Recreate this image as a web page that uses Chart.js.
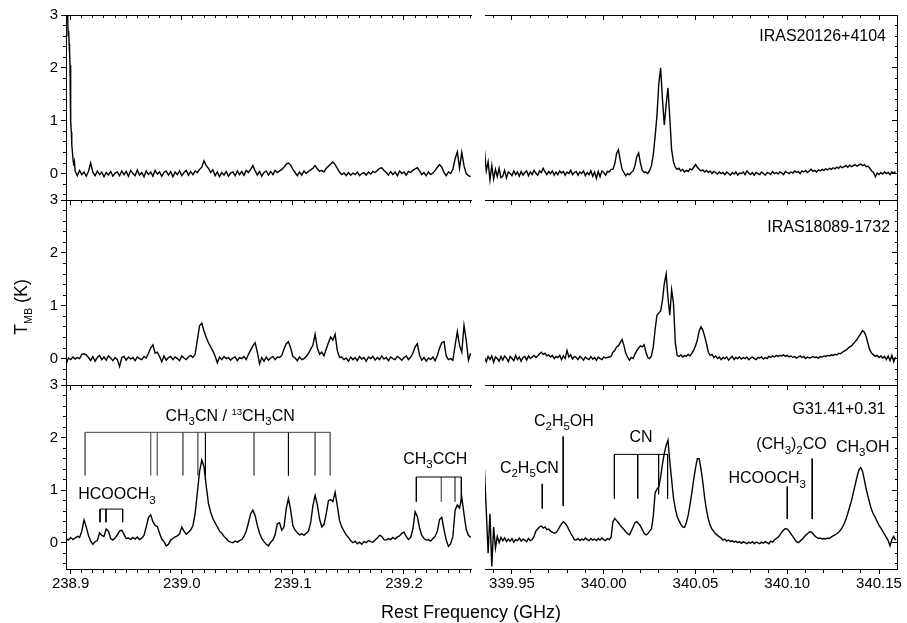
<!DOCTYPE html>
<html>
<head>
<meta charset="utf-8">
<script src="https://cdn.jsdelivr.net/npm/chart.js@4.4.0/dist/chart.umd.min.js"></script>
<style>
  html, body { margin: 0; padding: 0; background: #fff; }
  #wrap { position: relative; width: 907px; height: 623px; }
  #wrap canvas { position: absolute; left: 0; top: 0; }
</style>
</head>
<body>
<div id="wrap">
  <canvas id="c0" width="907" height="623"></canvas>
  <canvas id="c1" width="907" height="623"></canvas>
  <canvas id="c2" width="907" height="623"></canvas>
  <canvas id="c3" width="907" height="623"></canvas>
  <canvas id="c4" width="907" height="623"></canvas>
  <canvas id="c5" width="907" height="623"></canvas>
</div>
<script>
/*###########
  Data
  ###########*/

// tick labels
const lowTickLabels = ['238.9', '239.0', '239.1', '239.2'];
const highTickLabels = ['339.95', '340.00', '340.05', '340.10', '340.15'];
const tempTickLabels = ['0', '1', '2', '3'];

// channel grids (GHz): 2 MHz steps in the 239 GHz band, 1 MHz steps in the 340 GHz band
const lowStart = 238.896, lowStep = 0.002;
const highStart = 339.935, highStep = 0.001;

// IRAS20126+4104, 239 GHz band (edge of the band, then regular grid from 238.904)
const iras20126LowEdgeFreq = [238.8958, 238.8962, 238.8966, 238.8970, 238.8974, 238.8978, 238.8982, 238.8986, 238.8990,
  238.8994, 238.8998, 238.9002, 238.9006, 238.9010, 238.9016, 238.9022, 238.9028, 238.9034];
const iras20126LowEdgeT = [3.4, 3.1, 3.5, 3.0, 2.9, 2.6, 2.7, 2.45, 2.3, 2.05, 1.5, 1.0, 0.78, 0.55, 0.40, 0.25, 0.15, 0.22];
const iras20126LowStart = 238.904;
const iras20126Low = [
  0.05, -0.04, 0.06, -0.02, 0.03, -0.05, 0.04, 0.20, 0.02, -0.04,
  0.05, -0.02, 0.03, -0.06, 0.02, -0.03, 0.04, -0.05, 0.01, 0.03,
  -0.04, 0.05, -0.02, 0.04, -0.05, 0.06, 0.00, -0.04, 0.07, -0.03,
  0.02, -0.06, 0.05, -0.02, 0.03, -0.05, 0.06, -0.01, 0.03, -0.05,
  0.02, 0.05, -0.03, 0.04, -0.06, 0.03, -0.02, 0.05, -0.04, 0.02,
  0.06, -0.03, 0.04, -0.02, 0.05, 0.02, 0.08, 0.12, 0.24, 0.15,
  0.10, 0.02, 0.07, -0.04, 0.03, -0.06, 0.02, -0.03, 0.04, -0.05,
  0.01, 0.03, -0.04, 0.05, -0.02, 0.04, -0.03, 0.06, 0.02, 0.08,
  0.15, 0.05, -0.03, 0.04, -0.05, 0.02, 0.05, -0.03, 0.04, -0.02,
  0.06, 0.02, 0.05, 0.08, 0.12, 0.18, 0.20, 0.16, 0.08, 0.02,
  -0.04, 0.03, -0.03, 0.05, 0.00, 0.04, 0.07, 0.10, 0.15, 0.09,
  0.04, 0.06, 0.03, 0.10, 0.14, 0.18, 0.22, 0.17, 0.10, 0.03,
  -0.02, 0.01, -0.04, 0.02, -0.03, 0.01, -0.02, 0.03, -0.04, 0.00,
  0.02, -0.03, 0.03, -0.01, 0.04, 0.02, 0.06, 0.10, 0.11, 0.06,
  0.02, -0.03, 0.04, -0.02, 0.03, -0.04, 0.05, 0.00, 0.03, -0.03,
  0.04, 0.02, 0.06, 0.09, 0.11, 0.05, -0.02, 0.02, -0.04, 0.03,
  -0.02, 0.01, 0.06, 0.12, 0.17, 0.12, 0.02, -0.04, 0.03, 0.00,
  0.08, 0.28, 0.41, 0.10, 0.40, 0.15, 0.00, -0.04, -0.06
];

// IRAS20126+4104, 340 GHz band
const iras20126High = [
  0.45, 0.05, 0.22, -0.12, 0.15, -0.10, 0.08, -0.06, 0.10, -0.08,
  -0.05, 0.06, -0.08, 0.03, 0.00, -0.04, 0.05, -0.02, 0.03, -0.05,
  0.04, -0.03, 0.02, 0.05, -0.04, 0.03, -0.02, 0.06, 0.01, -0.03,
  0.05, 0.02, 0.10, 0.03, -0.02, 0.04, 0.00, 0.05, -0.03, 0.03,
  -0.02, 0.05, 0.01, 0.04, -0.03, 0.03, 0.00, 0.06, -0.02, 0.02,
  0.04, -0.03, 0.03, 0.00, 0.05, -0.04, 0.02, -0.02, 0.05, -0.05,
  0.03, -0.09, 0.04, -0.06, 0.05, 0.02, -0.03, 0.04, 0.03, 0.08,
  0.08, 0.18, 0.38, 0.45, 0.25, 0.08, 0.02, -0.04, 0.00, -0.02,
  0.02, 0.05, 0.15, 0.32, 0.39, 0.20, 0.06, 0.02, 0.03, 0.00,
  0.06, 0.15, 0.36, 0.70, 1.10, 1.70, 2.00, 1.40, 0.92, 1.30,
  1.62, 1.05, 0.45, 0.22, 0.12, 0.08, 0.10, 0.05, 0.08, 0.03,
  0.06, 0.04, 0.09, 0.07, 0.12, 0.17, 0.12, 0.08, 0.05, 0.07,
  0.03, 0.06, 0.02, 0.05, 0.00, 0.04, 0.02, -0.01, 0.03, 0.00,
  0.02, -0.02, 0.03, 0.00, -0.03, 0.02, -0.01, 0.03, -0.03, 0.01,
  0.00, 0.03, -0.02, 0.05, 0.01, -0.02, 0.02, -0.03, 0.02, 0.00,
  -0.02, 0.03, 0.00, -0.03, 0.02, 0.01, -0.02, 0.04, 0.00, 0.02,
  -0.01, 0.03, 0.01, -0.02, 0.04, 0.02, 0.00, 0.03, 0.01, 0.05,
  0.02, 0.04, 0.00, 0.05, 0.03, 0.06, 0.02, 0.05, 0.08, 0.04,
  0.06, 0.03, 0.07, 0.05, 0.08, 0.06, 0.09, 0.07, 0.10, 0.08,
  0.11, 0.09, 0.12, 0.10, 0.14, 0.11, 0.13, 0.15, 0.12, 0.16,
  0.13, 0.15, 0.17, 0.14, 0.16, 0.18, 0.15, 0.17, 0.13, 0.14,
  0.10, 0.05, 0.02, -0.06, 0.01, -0.02, 0.02, -0.01, 0.03, 0.00,
  0.02, -0.02, 0.03, 0.01, 0.04
];

// IRAS18089-1732, 239 GHz band
const iras18089Low = [
  -0.10, 0.01, -0.02, 0.03, -0.01, 0.02, 0.00, 0.08, 0.09, 0.07,
  0.02, -0.04, 0.04, -0.05, 0.02, 0.06, -0.02, 0.03, -0.03, 0.05,
  0.01, -0.04, 0.02, -0.02, -0.15, 0.02, 0.04, -0.03, 0.03, -0.01,
  0.02, -0.04, 0.03, 0.00, -0.02, 0.04, 0.01, 0.10, 0.20, 0.26,
  0.10, 0.12, 0.04, -0.06, 0.05, -0.03, 0.02, 0.04, -0.02, 0.03,
  0.00, -0.04, 0.05, 0.01, -0.02, 0.03, 0.06, 0.02, 0.08, 0.35,
  0.62, 0.67, 0.52, 0.40, 0.30, 0.22, 0.14, 0.05, -0.08, 0.03,
  -0.02, 0.04, 0.00, 0.02, -0.03, 0.01, 0.03, -0.04, 0.02, 0.00,
  0.04, -0.02, 0.08, 0.16, 0.24, 0.30, 0.12, -0.10, 0.02, -0.05,
  0.03, -0.03, 0.01, 0.04, -0.02, 0.03, 0.02, 0.06, 0.18, 0.28,
  0.32, 0.20, 0.04, 0.01, -0.04, 0.03, -0.02, 0.00, 0.04, 0.10,
  0.18, 0.25, 0.46, 0.20, 0.08, 0.12, 0.05, 0.18, 0.30, 0.41,
  0.35, 0.46, 0.15, 0.02, 0.03, -0.02, 0.01, -0.05, 0.03, -0.02,
  0.02, -0.04, 0.04, -0.01, 0.02, -0.05, 0.03, 0.00, 0.04, -0.03,
  0.02, -0.02, 0.05, -0.01, 0.02, -0.04, 0.03, 0.00, -0.02, 0.04,
  0.01, -0.03, 0.02, 0.05, -0.02, 0.03, 0.10, 0.22, 0.28, 0.06,
  -0.03, 0.02, -0.05, 0.01, -0.02, 0.03, -0.04, 0.06, 0.20, 0.30,
  0.32, 0.05, -0.02, 0.00, -0.03, 0.25, 0.51, 0.25, 0.12, 0.63,
  0.35, -0.03, 0.10
];

// IRAS18089-1732, 340 GHz band
const iras18089High = [
  0.02, -0.06, 0.04, -0.02, 0.05, -0.07, 0.03, 0.00, -0.05, 0.04,
  -0.03, 0.05, 0.01, -0.06, 0.04, 0.00, -0.04, 0.06, -0.02, 0.03,
  -0.05, 0.02, 0.04, -0.03, 0.05, 0.00, 0.03, 0.06, 0.02, 0.05,
  0.09, 0.12, 0.08, 0.10, 0.05, 0.07, 0.03, 0.06, 0.00, 0.04,
  0.02, 0.06, -0.02, 0.05, 0.00, 0.15, 0.03, 0.07, -0.01, 0.04,
  0.02, -0.02, 0.04, 0.01, -0.03, 0.03, 0.00, -0.02, 0.04, -0.01,
  0.02, -0.03, 0.03, 0.00, -0.02, 0.03, 0.01, 0.02, 0.03, 0.04,
  0.12, 0.15, 0.22, 0.24, 0.30, 0.36, 0.25, 0.10, 0.03, -0.03,
  0.02, 0.00, 0.08, 0.15, 0.20, 0.24, 0.22, 0.26, 0.12, 0.02,
  0.00, 0.05, 0.22, 0.55, 0.82, 0.86, 0.90, 1.10, 1.42, 1.60,
  1.15, 0.82, 1.30, 1.05, 0.30, 0.06, 0.04, 0.07, 0.03, 0.06,
  0.04, 0.08, 0.05, 0.10, 0.16, 0.24, 0.35, 0.52, 0.60, 0.54,
  0.42, 0.28, 0.12, 0.06, 0.08, 0.02, 0.05, 0.00, 0.03, -0.02,
  0.02, 0.00, 0.03, -0.03, 0.01, 0.04, -0.02, 0.02, 0.00, 0.03,
  -0.01, 0.02, 0.00, 0.03, -0.02, 0.01, 0.03, 0.00, -0.02, 0.02,
  0.01, 0.03, -0.01, 0.02, 0.00, 0.04, 0.02, 0.05, 0.03, 0.06,
  0.04, 0.06, 0.05, 0.07, 0.04, 0.06, 0.03, 0.05, 0.02, 0.04,
  0.01, 0.03, 0.05, 0.02, 0.04, 0.00, 0.03, 0.01, 0.02, 0.04,
  0.02, 0.03, 0.01, 0.04, 0.03, 0.05, 0.04, 0.06, 0.05, 0.07,
  0.06, 0.08, 0.07, 0.10, 0.09, 0.12, 0.14, 0.16, 0.19, 0.22,
  0.24, 0.28, 0.32, 0.36, 0.42, 0.47, 0.53, 0.50, 0.42, 0.28,
  0.16, 0.10, 0.07, 0.04, 0.06, 0.02, 0.05, 0.01, 0.04, -0.02,
  0.05, -0.04, 0.06, -0.06, 0.03
];

// G31.41+0.31, 239 GHz band
const g31Low = [
  0.08, 0.05, 0.10, 0.06, 0.09, 0.12, 0.10, 0.22, 0.43, 0.30,
  0.14, 0.03, -0.03, 0.02, 0.04, 0.19, 0.14, 0.12, 0.26, 0.22,
  0.08, 0.05, 0.09, 0.15, 0.22, 0.24, 0.16, 0.08, 0.09, 0.06,
  0.10, 0.07, 0.11, 0.06, 0.09, 0.14, 0.30, 0.48, 0.53, 0.40,
  0.33, 0.31, 0.18, 0.07, 0.02, -0.06, -0.03, 0.05, 0.08, 0.11,
  0.13, 0.17, 0.30, 0.22, 0.16, 0.20, 0.24, 0.32, 0.55, 0.95,
  1.35, 1.57, 1.45, 1.08, 0.75, 0.58, 0.46, 0.38, 0.30, 0.22,
  0.18, 0.12, 0.08, 0.03, 0.01, 0.00, 0.03, 0.01, 0.04, 0.06,
  0.12, 0.22, 0.38, 0.55, 0.62, 0.52, 0.33, 0.18, 0.08, 0.02,
  -0.03, -0.06, 0.01, 0.05, 0.15, 0.36, 0.38, 0.24, 0.30, 0.65,
  0.84, 0.62, 0.32, 0.24, 0.19, 0.15, 0.17, 0.14, 0.18, 0.22,
  0.38, 0.70, 0.90, 0.72, 0.45, 0.30, 0.35, 0.55, 0.80, 0.82,
  0.78, 0.96, 0.70, 0.42, 0.30, 0.22, 0.15, 0.10, 0.04, 0.00,
  0.03, -0.02, 0.01, -0.03, 0.02, 0.00, 0.04, 0.02, 0.01, 0.05,
  0.09, 0.14, 0.12, 0.06, 0.05, 0.08, 0.06, 0.10, 0.07, 0.11,
  0.13, 0.18, 0.20, 0.12, 0.06, 0.10, 0.26, 0.59, 0.50, 0.28,
  0.14, 0.08, 0.05, 0.06, 0.03, 0.08, 0.12, 0.22, 0.44, 0.48,
  0.25, 0.05, -0.07, -0.02, 0.12, 0.62, 0.72, 0.66, 0.86, 0.55,
  0.25, 0.14, 0.10
];

// G31.41+0.31, 340 GHz band
const g31High = [
  1.40, 0.60, -0.20, 0.55, -0.45, 0.30, -0.10, 0.12, 0.00, 0.10,
  0.04, 0.09, 0.02, 0.07, 0.03, 0.08, 0.01, 0.06, 0.04, 0.09,
  0.03, 0.07, 0.05, 0.02, 0.08, 0.04, 0.06, 0.12, 0.22, 0.26,
  0.30, 0.32, 0.28, 0.30, 0.25, 0.26, 0.22, 0.20, 0.18, 0.19,
  0.24, 0.30, 0.36, 0.40, 0.37, 0.32, 0.25, 0.18, 0.12, 0.06,
  0.05, 0.08, 0.04, 0.07, 0.05, 0.09, 0.06, 0.04, 0.08, 0.05,
  0.07, 0.04, 0.08, 0.05, 0.09, 0.06, 0.04, 0.08, 0.06, 0.10,
  0.40, 0.46, 0.42, 0.38, 0.33, 0.29, 0.25, 0.21, 0.17, 0.15,
  0.22, 0.30, 0.38, 0.40, 0.36, 0.32, 0.25, 0.18, 0.15, 0.17,
  0.22, 0.26, 0.50, 0.95, 1.02, 1.06, 1.25, 1.50, 1.70, 1.85,
  1.95, 1.55, 1.20, 0.85, 0.65, 0.50, 0.42, 0.35, 0.30, 0.29,
  0.38, 0.52, 0.72, 0.95, 1.20, 1.42, 1.60, 1.60, 1.40, 1.15,
  0.85, 0.62, 0.45, 0.33, 0.26, 0.21, 0.17, 0.14, 0.11, 0.09,
  0.05, 0.07, 0.03, 0.05, 0.02, 0.04, 0.01, 0.03, 0.00, 0.02,
  -0.01, 0.02, 0.00, -0.02, 0.01, -0.01, 0.02, -0.02, 0.01, 0.00,
  -0.02, 0.01, -0.01, 0.02, 0.00, -0.02, 0.03, 0.01, 0.05, 0.08,
  0.10, 0.15, 0.20, 0.24, 0.27, 0.26, 0.22, 0.17, 0.12, 0.07,
  0.02, 0.00, 0.03, 0.06, 0.10, 0.14, 0.17, 0.20, 0.21, 0.17,
  0.13, 0.10, 0.08, 0.09, 0.07, 0.08, 0.07, 0.09, 0.08, 0.11,
  0.13, 0.15, 0.17, 0.20, 0.24, 0.29, 0.36, 0.45, 0.56, 0.68,
  0.80, 0.95, 1.10, 1.25, 1.38, 1.43, 1.36, 1.20, 1.02, 0.88,
  0.74, 0.62, 0.54, 0.48, 0.40, 0.33, 0.28, 0.22, 0.16, 0.10,
  0.04, -0.06, 0.06, 0.12, 0.05
];

// line identifications in G31.41+0.31 (GHz, K)
const ch3cnFreq = [238.913, 238.972, 238.978, 239.001, 239.0144, 239.0213, 239.065, 239.096, 239.120, 239.1336];
const ch3cnDark = [239.0213, 239.096];
const ch3cnTop = 2.1, ch3cnBase = 1.28;
const hcoochLowFreq = [238.9264, 238.9318, 238.9468];
const hcoochLowTop = 0.64, hcoochLowBase = 0.39;
const ch3cchFreq = [239.2111, 239.2336, 239.2459, 239.2516];
const ch3cchDark = [239.2111, 239.2516];
const ch3cchTop = 1.25, ch3cchBase = 0.78;
const cnFreq = [340.0058, 340.0185, 340.0299, 340.0348];
const cnTop = 1.68, cnBase = [0.84, 0.84, 0.92, 0.84];
const markFreq = [339.9665, 339.9779, 340.1000, 340.1136];
const markTop = [1.12, 2.02, 1.07, 1.60];
const markBase = [0.65, 0.70, 0.45, 0.45];

/*###########
  Helpers
  ###########*/
const FONT = "'Liberation Sans', Arial, Helvetica, sans-serif";
const TICK = 5, MINOR = 3;
const Y_AXIS_W = 40, X_AXIS_H = 30;
const rowBox = [[15, 200], [200, 385], [385, 569]];
const colBox = [
  { left: 66, right: 471, min: 238.8958, max: 239.2603, labels: lowTickLabels },
  { left: 485, right: 897, min: 339.9353, max: 340.1598, labels: highTickLabels }
];

function grid(start, step, values) {
  return values.map((t, i) => ({ x: +(start + i * step).toFixed(5), y: t }));
}
function pairs(freqs, temps) {
  return freqs.map((f, i) => ({ x: f, y: temps[i] }));
}
function verticals(freqs, top, base) {
  const pts = [];
  freqs.forEach((f, i) => {
    pts.push({ x: f, y: Array.isArray(top) ? top[i] : top }, { x: f, y: Array.isArray(base) ? base[i] : base }, { x: f, y: null });
  });
  return pts;
}
function crossbar(freqs, top) {
  return [{ x: freqs[0], y: top }, { x: freqs[freqs.length - 1], y: top }, { x: freqs[0], y: null }];
}
function spectrum(points) {
  return { data: points, borderColor: '#000', borderWidth: 1.4, pointRadius: 0, tension: 0, xAxisID: 'x', yAxisID: 'y' };
}
function marks(points, color) {
  return { data: points, borderColor: color, borderWidth: 1, pointRadius: 0, tension: 0, spanGaps: false, xAxisID: 'x', yAxisID: 'y' };
}

function findLabel(labels, v) {
  return labels.find(l => Math.abs(parseFloat(l) - v) < 1e-6);
}
function tickValues(min, max, step) {
  const out = [];
  for (let k = Math.ceil(min / step - 1e-6); k <= Math.floor(max / step + 1e-6); k++) out.push(+(k * step).toFixed(4));
  return out;
}
// minor ticks: only the part next to the axis line is drawn
function minorDash(labels, fromAxis) {
  return ctx => (ctx.tick && findLabel(labels, ctx.tick.value)) ? [] :
    (fromAxis ? [MINOR, 100] : [0, TICK - MINOR, MINOR, 100]);
}

// text with _{sub} and ^{sup}
function drawRich(ctx, text, x, y, align, size, subScale) {
  const runs = [];
  text.replace(/([_^])\{([^}]*)\}|[^_^]+/g, (m, kind, inner) => { runs.push(kind ? [inner, kind] : [m, '']); return m; });
  const sub = subScale || 0.72;
  const fontFor = k => (k === '_' ? size * sub : k === '^' ? size * 0.6 : size) + 'px ' + FONT;
  let width = 0;
  runs.forEach(r => { ctx.font = fontFor(r[1]); width += ctx.measureText(r[0]).width; });
  let cx = align === 'center' ? x - width / 2 : align === 'right' ? x - width : x;
  ctx.textAlign = 'left';
  ctx.textBaseline = 'alphabetic';
  ctx.fillStyle = '#000';
  runs.forEach(r => {
    ctx.font = fontFor(r[1]);
    const dy = r[1] === '_' ? size * 0.27 : r[1] === '^' ? -size * 0.36 : 0;
    ctx.fillText(r[0], cx, y + dy);
    cx += ctx.measureText(r[0]).width;
  });
}

function textPlugin(items, extra) {
  return {
    id: 'panelText',
    afterDraw(chart) {
      const ctx = chart.ctx;
      ctx.save();
      items.forEach(it => drawRich(ctx, it.text, chart.scales.x.getPixelForValue(it.f),
        chart.scales.y.getPixelForValue(it.t), it.align, 16));
      if (extra) extra(chart, ctx);
      ctx.restore();
    }
  };
}

function axisTitles(chart, ctx) {
  drawRich(ctx, 'Rest Frequency (GHz)', chart.chartArea.right, 618, 'center', 18);
  ctx.save();
  ctx.translate(27, 307);
  ctx.rotate(-Math.PI / 2);
  drawRich(ctx, 'T_{MB} (K)', 0, 0, 'center', 18, 0.6);
  ctx.restore();
}

function makeChart(id, row, col, datasets, texts, extra) {
  const [top, bottom] = rowBox[row];
  const c = colBox[col];
  const last = row === 2;
  const xVals = tickValues(c.min, c.max, 0.01);
  const yVals = tickValues(-0.5, 3, 0.2);
  const border = { display: true, color: '#000', width: 1 };
  const tickFont = { family: FONT, size: 15 };

  const yAxis = col === 0 ? {
    type: 'linear', position: 'left', min: -0.5, max: 3,
    afterBuildTicks: s => { s.ticks = yVals.map(v => ({ value: v })); },
    afterFit: s => { s.width = Y_AXIS_W; },
    ticks: { autoSkip: false, padding: 3, color: '#000', font: tickFont, callback: v => findLabel(tempTickLabels, v) || '' },
    grid: { drawOnChartArea: false, tickLength: TICK, tickColor: '#000', tickBorderDash: minorDash(tempTickLabels, false) },
    border: border
  } : {
    type: 'linear', position: 'right', min: -0.5, max: 3,
    afterBuildTicks: s => { s.ticks = yVals.map(v => ({ value: v })); },
    afterFit: s => { s.width = 0; },
    ticks: { display: false, autoSkip: false },
    grid: { drawOnChartArea: false, tickLength: -TICK, tickColor: '#000', tickBorderDash: minorDash(tempTickLabels, true) },
    border: border
  };

  return new Chart(document.getElementById(id), {
    type: 'line',
    data: { datasets: datasets },
    options: {
      responsive: false,
      devicePixelRatio: 1,
      animation: false,
      events: [],
      layout: {
        padding: {
          left: col === 0 ? c.left - Y_AXIS_W : c.left,
          right: 907 - c.right,
          top: top,
          bottom: 623 - bottom - (last ? X_AXIS_H : 0)
        }
      },
      plugins: { legend: { display: false }, tooltip: { enabled: false } },
      scales: {
        x: {
          type: 'linear', position: 'bottom', min: c.min, max: c.max,
          afterBuildTicks: s => { s.ticks = xVals.map(v => ({ value: v })); },
          afterFit: s => { s.height = last ? X_AXIS_H : 0; },
          ticks: { display: last, autoSkip: false, maxRotation: 0, padding: 1, color: '#000', font: tickFont,
            callback: v => findLabel(c.labels, v) || '' },
          grid: { display: last, drawOnChartArea: false, tickLength: TICK, tickColor: '#000', tickBorderDash: minorDash(c.labels, true) },
          border: border
        },
        xTop: {
          type: 'linear', position: 'top', min: c.min, max: c.max,
          afterBuildTicks: s => { s.ticks = xVals.map(v => ({ value: v })); },
          afterFit: s => { s.height = 0; },
          ticks: { display: false, autoSkip: false },
          grid: { drawOnChartArea: false, tickLength: -TICK, tickColor: '#000', tickBorderDash: minorDash(c.labels, false) },
          border: border
        },
        y: yAxis
      }
    },
    plugins: [textPlugin(texts || [], extra)]
  });
}

/*###########
  Panels
  ###########*/
const GREY = '#6e6e6e';

makeChart('c0', 0, 0, [
  spectrum(pairs(iras20126LowEdgeFreq, iras20126LowEdgeT).concat(grid(iras20126LowStart, lowStep, iras20126Low)))
]);

makeChart('c1', 0, 1, [spectrum(grid(highStart, highStep, iras20126High))],
  [{ text: 'IRAS20126+4104', f: 340.1538, t: 2.514, align: 'right' }]);

makeChart('c2', 1, 0, [spectrum(grid(lowStart, lowStep, iras18089Low))]);

makeChart('c3', 1, 1, [spectrum(grid(highStart, highStep, iras18089High))],
  [{ text: 'IRAS18089-1732', f: 340.156, t: 2.40, align: 'right' }]);

makeChart('c4', 2, 0, [
  spectrum(grid(lowStart, lowStep, g31Low)),
  marks(crossbar(ch3cnFreq, ch3cnTop), '#444'),
  marks(verticals(ch3cnFreq.filter(f => !ch3cnDark.includes(f)), ch3cnTop, ch3cnBase), GREY),
  marks(verticals(ch3cnDark, ch3cnTop, ch3cnBase), '#000'),
  marks(crossbar(hcoochLowFreq, hcoochLowTop).concat(verticals(hcoochLowFreq, hcoochLowTop, hcoochLowBase)), '#000'),
  marks(crossbar(ch3cchFreq, ch3cchTop), '#000'),
  marks(verticals(ch3cchFreq.filter(f => !ch3cchDark.includes(f)), ch3cchTop, ch3cchBase), GREY),
  marks(verticals(ch3cchDark, ch3cchTop, ch3cchBase), '#000')
], [
  { text: 'CH_{3}CN / ^{13}CH_{3}CN', f: 239.0435, t: 2.32, align: 'center' },
  { text: 'HCOOCH_{3}', f: 238.9068, t: 0.826, align: 'left' },
  { text: 'CH_{3}CCH', f: 239.2282, t: 1.497, align: 'center' }
], axisTitles);

makeChart('c5', 2, 1, [
  spectrum(grid(highStart, highStep, g31High)),
  marks(crossbar(cnFreq, cnTop).concat(verticals(cnFreq, cnTop, cnBase)), '#000'),
  marks(verticals(markFreq, markTop, markBase), '#000')
], [
  { text: 'C_{2}H_{5}CN', f: 339.9595, t: 1.332, align: 'center' },
  { text: 'C_{2}H_{5}OH', f: 339.9783, t: 2.22, align: 'center' },
  { text: 'CN', f: 340.0203, t: 1.916, align: 'center' },
  { text: 'HCOOCH_{3}', f: 340.0891, t: 1.13, align: 'center' },
  { text: '(CH_{3})_{2}CO', f: 340.1023, t: 1.777, align: 'center' },
  { text: 'CH_{3}OH', f: 340.1411, t: 1.731, align: 'center' },
  { text: 'G31.41+0.31', f: 340.1535, t: 2.45, align: 'right' }
]);
</script>
</body>
</html>
